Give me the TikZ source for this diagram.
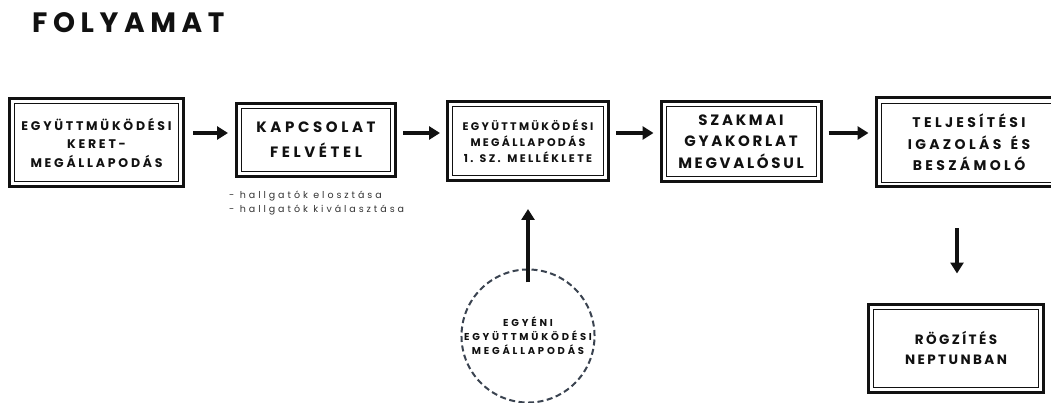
\documentclass[tikz,border=0pt]{standalone}
\usepackage{fontspec}
\setmainfont{Poppins}
\newfontfamily\pop{Poppins}
\usetikzlibrary{arrows.meta,calc}
\definecolor{ink}{HTML}{111111}
\definecolor{dashc}{HTML}{3A4350}
\definecolor{subc}{HTML}{333333}
\tikzset{
  dbox/.style={draw=ink, line width=3pt, align=center, inner sep=0pt, text=ink,
    font=\pop\bfseries,
    path picture={\draw[ink, line width=0.9pt]
      ([shift={(5pt,-5pt)}]path picture bounding box.north west) rectangle
      ([shift={(-5pt,5pt)}]path picture bounding box.south east);}},
  arr/.style={ink, line width=3.2pt, -{Triangle[length=11pt,width=13pt]}},
}
\newcommand{\ls}[2]{{\addfontfeature{LetterSpace=#1}#2}}
\begin{document}
\begin{tikzpicture}[x=1pt,y=-1pt]
\useasboundingbox (0,0) rectangle (1051,403);
\node[anchor=west, font=\pop\bfseries\fontsize{28}{30}\selectfont, text=ink, inner sep=0pt] (title) at (32,23) {\ls{20}{FOLYAMAT}};

\node[dbox, minimum width=174pt, minimum height=88pt, font=\pop\bfseries\fontsize{12.5}{18.5}\selectfont] (b1) at (96.5,142.5)
  {\ls{22}{EGYÜTTMÜKÖDÉSI}\\\ls{22}{KERET-}\\\ls{22}{MEGÁLLAPODÁS}};
\node[dbox, minimum width=159pt, minimum height=73pt, font=\pop\bfseries\fontsize{15}{25}\selectfont] (b2) at (316,140)
  {\ls{24}{KAPCSOLAT}\\\ls{24}{FELVÉTEL}};
\node[dbox, minimum width=161pt, minimum height=79pt, font=\pop\bfseries\fontsize{11}{16}\selectfont] (b3) at (528,141)
  {\ls{21}{EGYÜTTMÜKÖDÉSI}\\\ls{21}{MEGÁLLAPODÁS}\\\ls{21}{1. SZ.\hspace{2pt} MELLÉKLETE}};
\node[dbox, minimum width=160pt, minimum height=80pt, font=\pop\bfseries\fontsize{15}{21.5}\selectfont] (b4) at (741,141.5)
  {\ls{18}{SZAKMAI}\\\ls{18}{GYAKORLAT}\\\ls{18}{MEGVALÓSUL}};
\node[dbox, minimum width=186pt, minimum height=89pt, font=\pop\bfseries\fontsize{14}{21.5}\selectfont] (b5) at (969,142.5)
  {\ls{24}{TELJESÍTÉSI}\\\ls{24}{IGAZOLÁS\hspace{3pt} ÉS}\\\ls{24}{BESZÁMOLÓ}};
\node[dbox, minimum width=175pt, minimum height=88pt, font=\pop\bfseries\fontsize{13.5}{20}\selectfont] (b6) at (956,348)
  {\ls{18}{RÖGZÍTÉS}\\\ls{18}{NEPTUNBAN}};

\node[circle, draw=dashc, line width=2pt, dash pattern=on 6pt off 3.5pt, minimum size=130pt, inner sep=0pt,
  align=center, text=ink, font=\pop\bfseries\fontsize{10}{14}\selectfont] (c) at (528,336)
  {\ls{28}{EGYÉNI}\\\ls{28}{EGYÜTTMÜKÖDÉSI}\\\ls{28}{MEGÁLLAPODÁS}};

\node[anchor=north west, align=left, inner sep=0pt, text=subc, font=\pop\fontsize{9.5}{14}\selectfont] (sub) at (229,191)
  {\ls{31}{- hallgatók elosztása}\\\ls{31}{- hallgatók kiválasztása}};

\draw[arr] ([shift={(8pt,9.5pt)}]b1.east) -- ([shift={(-7pt,7pt)}]b2.west);
\draw[arr] ([shift={(6pt,7pt)}]b2.east) -- ([shift={(-6pt,8pt)}]b3.west);
\draw[arr] ([shift={(6pt,8pt)}]b3.east) -- ([shift={(-6pt,8.5pt)}]b4.west);
\draw[arr] ([shift={(6pt,8.5pt)}]b4.east) -- ([shift={(-6pt,9.5pt)}]b5.west);
\draw[arr] ([yshift=-14pt]c.north) -- ([yshift=-27pt]b3.south);
\draw[arr] ($(b5.south -| b6.north)+(1pt,-40pt)$) -- ($(b6.north)+(1pt,29pt)$);
\end{tikzpicture}
\end{document}
